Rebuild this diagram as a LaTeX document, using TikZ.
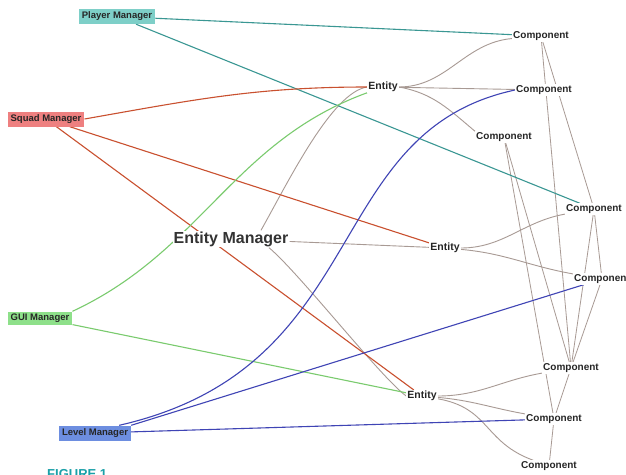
\documentclass[tikz,border=0pt]{standalone}
\usepackage{fontspec}
\setmainfont{Liberation Sans}
\usetikzlibrary{backgrounds}
\definecolor{pmfill}{HTML}{7ECFC8}
\definecolor{smfill}{HTML}{EE8080}
\definecolor{gmfill}{HTML}{8EE08A}
\definecolor{lmfill}{HTML}{6D8EE0}
\definecolor{tealline}{HTML}{3A9793}
\definecolor{redline}{HTML}{C9502F}
\definecolor{greenline}{HTML}{7ACB6E}
\definecolor{blueline}{HTML}{3F44B5}
\definecolor{grayline}{HTML}{A89A94}
\definecolor{figteal}{HTML}{1AA0A8}
\begin{document}
\begin{tikzpicture}[x=1pt,y=-1pt,
  mgr/.style={font=\bfseries\fontsize{9.5}{11}\selectfont, text=black!85, inner xsep=3pt, inner ysep=0pt, minimum height=15pt},
  comp/.style={font=\bfseries\fontsize{10}{12}\selectfont, fill=white, inner sep=1pt, text=black!85},
  ent/.style={font=\bfseries\fontsize{10.5}{12}\selectfont, fill=white, inner sep=1pt, text=black!85},
  emgr/.style={font=\bfseries\fontsize{16}{18}\selectfont, fill=white, inner sep=1pt, text=black!80},
  tl/.style={draw=tealline, line width=1.1pt},
  rl/.style={draw=redline, line width=1.1pt},
  gr/.style={draw=greenline, line width=1.1pt},
  bl/.style={draw=blueline, line width=1.1pt},
  gl/.style={draw=grayline, line width=0.9pt},
  cl/.style={draw=grayline, line width=0.8pt}
]
\useasboundingbox (0,0) rectangle (626,474);

% managers
\node[mgr, fill=pmfill] (PM) at (117,16.5) {Player Manager};
\node[mgr, fill=smfill] (SM) at (46,119) {Squad Manager};
\node[mgr, fill=gmfill, minimum height=13pt] (GM) at (40,318) {GUI Manager};
\node[mgr, fill=lmfill] (LM) at (95,433) {Level Manager};

% entity manager and entities
\node[emgr] (EM) at (231,239) {Entity Manager};
\node[ent] (E1) at (383,87) {Entity};
\node[ent] (E2) at (445,248) {Entity};
\node[ent] (E3) at (422,396) {Entity};

% components
\node[comp] (C1) at (541,36) {Component};
\node[comp] (C2) at (544,90) {Component};
\node[comp] (C3) at (504,137) {Component};
\node[comp] (C4) at (594,209) {Component};
\node[comp] (C5) at (602,279) {Component};
\node[comp] (C6) at (571,368) {Component};
\node[comp] (C7) at (554,419) {Component};
\node[comp] (C8) at (549,466) {Component};

\node[anchor=north west, font=\bfseries\fontsize{13}{15}\selectfont, text=figteal, inner sep=0pt] (fig) at (47,469) {FIGURE 1};

\begin{pgfonlayer}{background}
\fill[white] (0,0) rectangle (626,474);
% component to component
\draw[cl] (C1) -- (C4);
\draw[cl] (C1) -- (C6);
\draw[cl] (C3) -- (C6);
\draw[cl] (C3) -- (C7);
\draw[cl] (C4) -- (C5);
\draw[cl] (C4) -- (C6);
\draw[cl] (C5) -- (C6);
\draw[cl] (C6) -- (C7);
\draw[cl] (C7) -- (C8);

% entity manager links
\draw[gl] ([xshift=30pt]EM.north) .. controls +(28,-50) and +(-35,5) .. (E1.west);
\draw[gl] (EM) -- (E2);
\draw[gl] ([xshift=38pt]EM.south) .. controls +(30,25) and +(-25,-18) .. (E3.west);

% entity to component
\draw[gl] (E1) to[out=0,in=185] (C1);
\draw[gl] (E1) -- (C2);
\draw[gl] (E1.east) to[out=-10,in=140] (C3.north west);
\draw[gl] (E2) to[out=0,in=190] (C4);
\draw[gl] (E2) to[out=-5,in=170] (C5);
\draw[gl] (E3) to[out=0,in=190] (C6);
\draw[gl] (E3) to[out=-5,in=170] (C7);
\draw[gl] (E3) to[out=-10,in=160,looseness=1.2] (C8);

% manager links
\draw[tl] (PM) -- (C1);
\draw[tl] (PM) -- (C4);
\draw[rl] (SM.east) to[out=10,in=180] (E1);
\draw[rl] (SM) -- (E2);
\draw[rl] (SM) -- (E3);
\draw[gr] (GM.north east) to[out=25,in=200] (E1);
\draw[gr] (GM) -- (E3);
\draw[bl] ([xshift=-12pt]LM.north east) .. controls +(255,-58) and +(-196,42) .. (C2.west);
\draw[bl] (LM.north east) -- (C5);
\draw[bl] (LM) -- (C7);
\end{pgfonlayer}
\end{tikzpicture}
\end{document}
